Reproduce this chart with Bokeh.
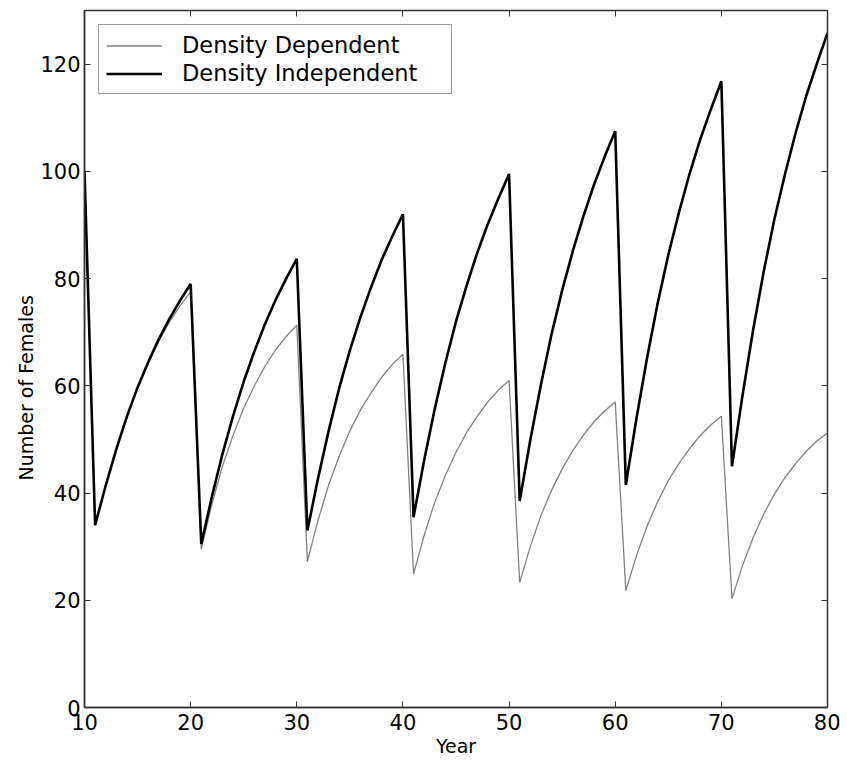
from bokeh.plotting import figure
from bokeh.models import LinearAxis, FixedTicker, Legend, LegendItem, CustomJSTickFormatter, Title
from bokeh.embed import file_html
from bokeh.resources import INLINE

years = list(range(10, 81))

density_independent = [
    100.0,
    34.0, 41.4, 48.2, 54.3, 59.7, 64.4, 68.7, 72.5, 75.9, 79.0,
    30.5, 39.3, 47.3, 54.4, 60.8, 66.4, 71.5, 76.0, 80.0, 83.7,
    33.0, 42.7, 51.6, 59.6, 66.6, 72.8, 78.4, 83.5, 87.9, 92.0,
    35.5, 46.1, 55.7, 64.3, 72.0, 78.7, 84.8, 90.2, 95.0, 99.5,
    38.5, 49.9, 60.2, 69.6, 77.8, 85.1, 91.6, 97.5, 102.7, 107.5,
    41.5, 53.9, 65.2, 75.4, 84.4, 92.3, 99.5, 105.9, 111.5, 116.8,
    45.0, 58.3, 70.5, 81.4, 91.1, 99.5, 107.2, 114.1, 120.1, 125.8,
]

density_dependent = [
    100.0,
    34.0, 41.4, 48.2, 54.3, 59.6, 64.2, 68.3, 71.9, 74.9, 77.5,
    29.5, 37.9, 45.0, 50.8, 55.8, 60.0, 63.6, 66.7, 69.2, 71.3,
    27.2, 34.9, 41.5, 46.9, 51.6, 55.5, 58.7, 61.6, 64.0, 65.9,
    24.9, 32.1, 38.3, 43.3, 47.6, 51.3, 54.3, 57.0, 59.2, 61.0,
    23.3, 30.0, 35.8, 40.5, 44.5, 47.9, 50.8, 53.3, 55.3, 57.0,
    21.8, 28.3, 33.8, 38.4, 42.3, 45.5, 48.3, 50.7, 52.7, 54.3,
    20.3, 26.5, 31.7, 36.1, 39.8, 42.9, 45.5, 47.8, 49.7, 51.2,
]

x_ticks = [10, 20, 30, 40, 50, 60, 70, 80]
y_ticks = [0, 20, 40, 60, 80, 100, 120]
series_labels = ["Density Dependent", "Density Independent"]
x_title = "Year"
y_title = "Number of Females"

FONT = "DejaVu Sans"
EDGE = "#333333"

p = figure(width=840, height=762, x_range=(10, 80), y_range=(0, 130),
           output_backend="svg", toolbar_location=None,
           min_border_left=84, min_border_right=13, min_border_top=10,
           min_border_bottom=55)

p.xgrid.visible = False
p.ygrid.visible = False
p.outline_line_color = EDGE
p.outline_line_width = 1.5
p.background_fill_color = "white"

dd = p.line(years, density_dependent, line_color="#808080", line_width=1.3)
di = p.line(years, density_independent, line_color="black", line_width=2.6)

for ax in (p.xaxis[0], p.yaxis[0]):
    ax.major_tick_in = 6
    ax.major_tick_out = 0
    ax.minor_tick_line_color = None
    ax.axis_line_color = EDGE
    ax.axis_line_width = 1.5
    ax.major_tick_line_color = EDGE
    ax.major_label_text_font = FONT
    ax.major_label_text_font_size = "21px"
    ax.major_label_text_color = "black"
    ax.axis_label_text_font = FONT
    ax.axis_label_text_font_size = "19px"
    ax.axis_label_text_font_style = "normal"
    ax.axis_label_text_color = "black"

p.xaxis[0].ticker = FixedTicker(ticks=x_ticks)
p.yaxis[0].ticker = FixedTicker(ticks=y_ticks)
p.xaxis[0].axis_label = x_title
p.xaxis[0].major_label_standoff = 6
p.xaxis[0].axis_label_standoff = 2
p.yaxis[0].major_label_standoff = 4

# y title as a left-side title so it can sit slightly below centre
p.add_layout(Title(text=y_title, align="left", offset=227, standoff=2,
                   text_font=FONT, text_font_size="19px",
                   text_font_style="normal", text_color="black"), "left")

blank = CustomJSTickFormatter(code="return ''")
for loc, ticks in (("above", x_ticks), ("right", y_ticks)):
    ax = LinearAxis(ticker=FixedTicker(ticks=ticks), formatter=blank)
    ax.major_tick_in = 6
    ax.major_tick_out = 0
    ax.minor_tick_line_color = None
    ax.axis_line_color = EDGE
    ax.major_tick_line_color = EDGE
    ax.major_label_standoff = 0
    p.add_layout(ax, loc)

legend = Legend(items=[LegendItem(label=series_labels[0], renderers=[dd]),
                       LegendItem(label=series_labels[1], renderers=[di])],
                location="top_left", margin=14, padding=7, spacing=2,
                glyph_width=56, glyph_height=25, label_height=25,
                label_width=262, label_standoff=20,
                label_text_font=FONT, label_text_font_size="22.5px",
                label_text_color="black",
                border_line_color=EDGE, border_line_width=1.5,
                background_fill_color="white", background_fill_alpha=1.0)
p.add_layout(legend, "center")

open("out.html", "w").write(file_html(p, INLINE))
